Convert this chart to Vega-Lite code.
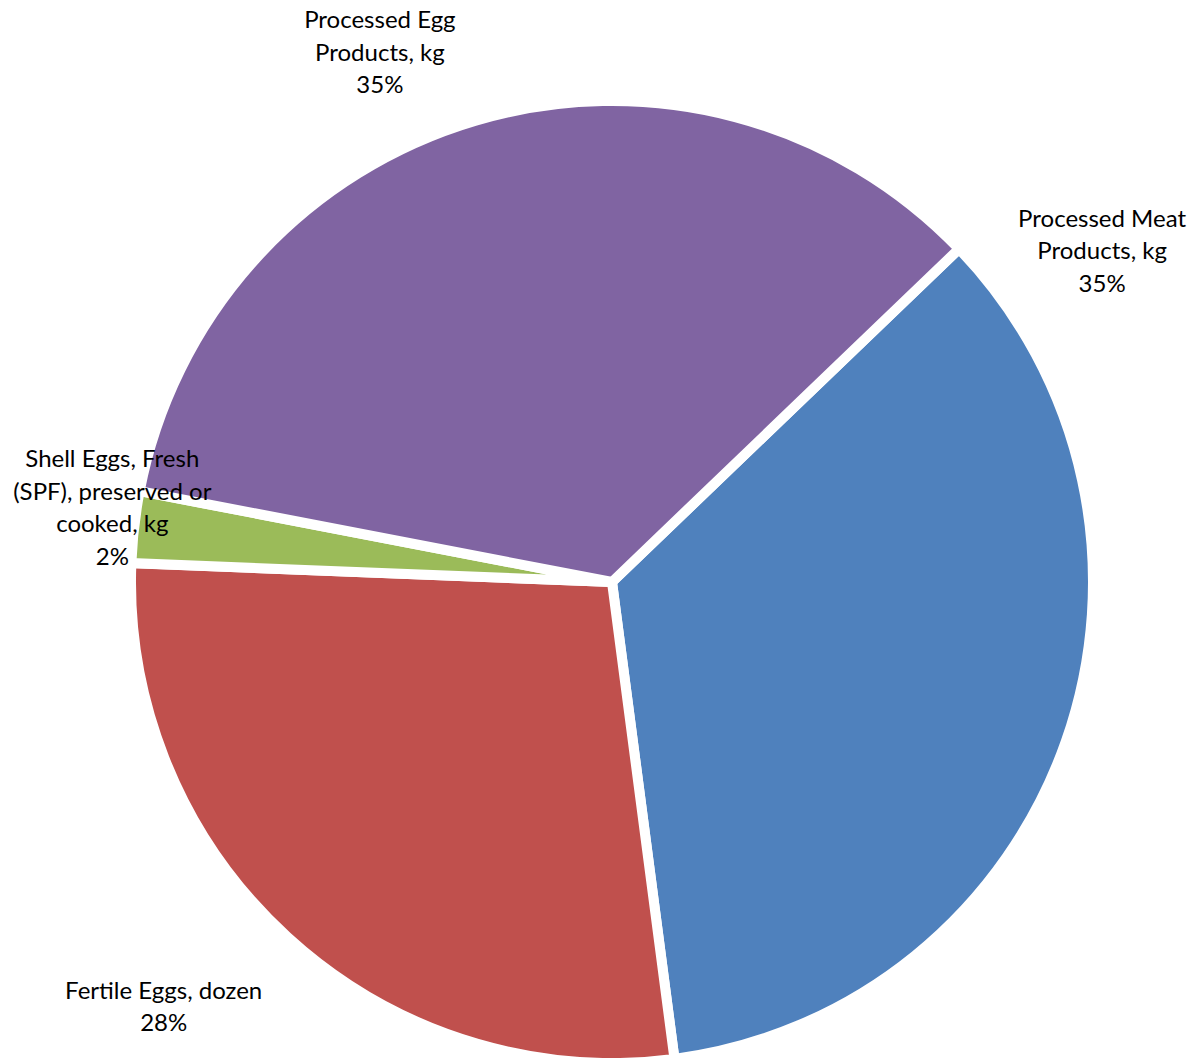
{
  "$schema": "https://vega.github.io/schema/vega-lite/v6.json",
  "width": 1176,
  "height": 952,
  "autosize": {"type": "none"},
  "padding": {"left": 24, "top": 106, "right": 0, "bottom": 0},
  "background": "white",
  "config": {"view": {"stroke": null}},
  "data": {
    "values": [
      {"idx": 1, "name": "Processed Meat Products, kg", "value": 35.1, "label": "Processed Meat\nProducts, kg\n35%"},
      {"idx": 2, "name": "Fertile Eggs, dozen", "value": 27.7, "label": "Fertile Eggs, dozen\n28%"},
      {"idx": 3, "name": "Shell Eggs, Fresh (SPF), preserved or cooked, kg", "value": 2.4, "label": "Shell Eggs, Fresh\n(SPF), preserved or\ncooked, kg\n2%"},
      {"idx": 4, "name": "Processed Egg Products, kg", "value": 34.8, "label": "Processed Egg\nProducts, kg\n35%"}
    ]
  },
  "encoding": {
    "theta": {"field": "value", "type": "quantitative", "stack": true, "scale": {"range": [0.806, 7.089]}},
    "order": {"field": "idx", "type": "quantitative"}
  },
  "layer": [
    {
      "mark": {"type": "arc", "outerRadius": 481, "stroke": "white", "strokeWidth": 10, "strokeJoin": "miter"},
      "encoding": {
        "color": {
          "field": "name", "type": "nominal", "legend": null,
          "scale": {
            "domain": ["Processed Meat Products, kg", "Fertile Eggs, dozen", "Shell Eggs, Fresh (SPF), preserved or cooked, kg", "Processed Egg Products, kg"],
            "range": ["#4F81BD", "#C0504D", "#9BBB59", "#8064A2"]
          }
        }
      }
    },
    {
      "mark": {"type": "text", "radius": 352, "dx": 158, "dy": -479, "font": "Lato", "fontSize": 24, "lineHeight": 32.5, "lineBreak": "\n", "align": "center", "baseline": "middle", "color": "black"},
      "encoding": {"text": {"condition": {"test": "datum.idx === 1", "field": "label"}, "value": ""}}
    },
    {
      "mark": {"type": "text", "radius": 616, "dx": -33, "dy": -45, "font": "Lato", "fontSize": 24, "lineHeight": 32.5, "lineBreak": "\n", "align": "center", "baseline": "middle", "color": "black"},
      "encoding": {"text": {"condition": {"test": "datum.idx === 2", "field": "label"}, "value": ""}}
    },
    {
      "mark": {"type": "text", "radius": 505, "dx": 2, "dy": -64, "font": "Lato", "fontSize": 24, "lineHeight": 32.5, "lineBreak": "\n", "align": "center", "baseline": "middle", "color": "black"},
      "encoding": {"text": {"condition": {"test": "datum.idx === 3", "field": "label"}, "value": ""}}
    },
    {
      "mark": {"type": "text", "radius": 572, "dx": -70, "dy": -12, "font": "Lato", "fontSize": 24, "lineHeight": 32.5, "lineBreak": "\n", "align": "center", "baseline": "middle", "color": "black"},
      "encoding": {"text": {"condition": {"test": "datum.idx === 4", "field": "label"}, "value": ""}}
    }
  ]
}
